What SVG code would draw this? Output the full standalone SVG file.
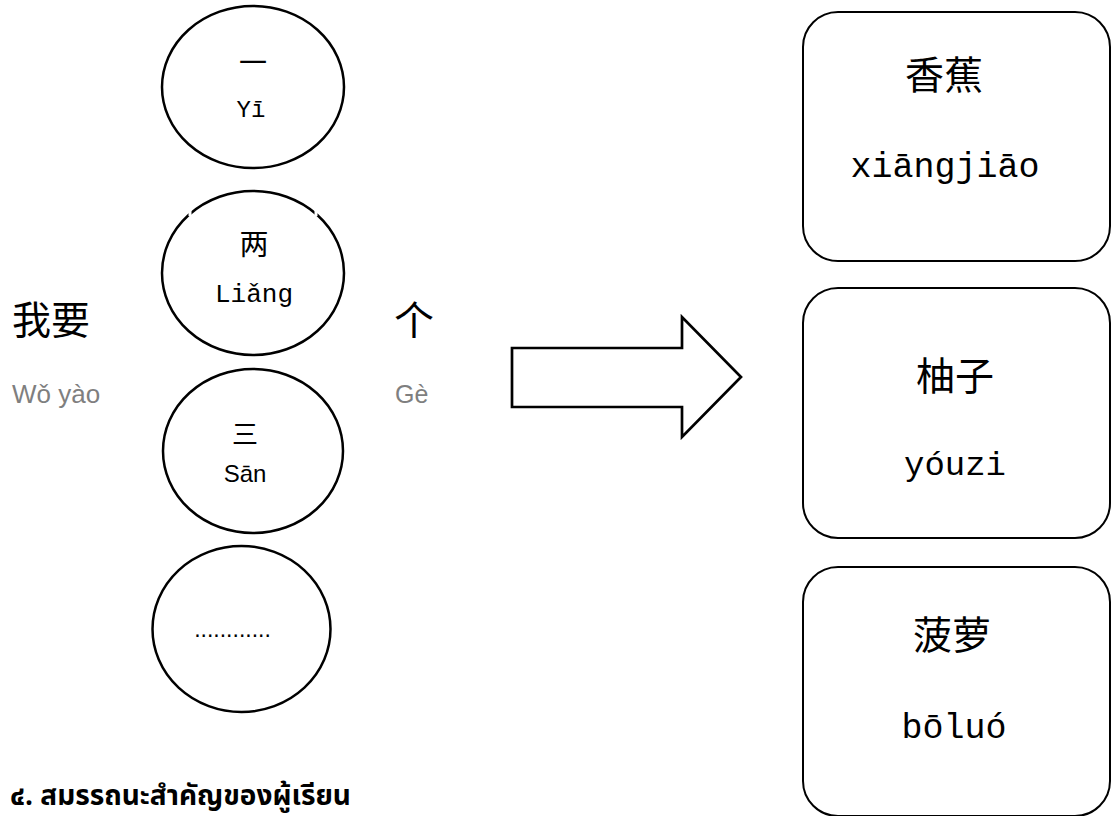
<svg xmlns="http://www.w3.org/2000/svg" width="1112" height="816" viewBox="0 0 1112 816">
<style>
.sh{fill:#fff;stroke:#000;stroke-width:2.5}
.rr{fill:#fff;stroke:#000;stroke-width:2}
.cjk{font-family:"Noto Sans CJK SC",sans-serif;fill:#000;text-anchor:middle}
.py{font-family:"Liberation Mono",monospace;fill:#000;text-anchor:middle}
.gray{font-family:"Liberation Sans",Arial,sans-serif;fill:#7f7f7f}
.sans{font-family:"Liberation Sans",Arial,sans-serif;fill:#000;text-anchor:middle}
.thai{font-family:"Noto Sans Thai","Noto Sans","DejaVu Sans",sans-serif;font-weight:bold;fill:#000}
</style>
<rect width="1112" height="816" fill="#fff"/>
<g id="circle-yi">
<ellipse class="sh" cx="253" cy="87" rx="91" ry="81"/>
<text class="cjk" x="253" y="73" font-size="28">一</text>
<text class="py" x="251" y="117" font-size="24">Yī</text>
</g>
<g id="circle-liang">
<ellipse class="sh" cx="253" cy="273" rx="91" ry="82"/>
<line x1="190" y1="208" x2="190" y2="216" stroke="#fff" stroke-width="3"/>
<line x1="316" y1="208" x2="316" y2="216" stroke="#fff" stroke-width="3"/>
<text class="cjk" x="254" y="255" font-size="29">两</text>
<text class="py" x="254" y="302" font-size="26">Liǎng</text>
</g>
<g id="circle-san">
<ellipse class="sh" cx="253" cy="451" rx="90" ry="82"/>
<text class="cjk" x="245" y="444" font-size="26">三</text>
<text class="sans" x="245" y="482" font-size="24">Sān</text>
</g>
<g id="circle-more">
<ellipse class="sh" cx="241.5" cy="629" rx="89" ry="83"/>
<text class="sans" x="232.5" y="637" font-size="23">............</text>
</g>
<g id="wo-yao">
<text class="cjk" x="51" y="334" font-size="39">我要</text>
<text class="gray" x="12" y="403" font-size="26">Wǒ yào</text>
</g>
<g id="ge">
<text class="cjk" x="414" y="335" font-size="40">个</text>
<text class="gray" x="395" y="403" font-size="25">Gè</text>
</g>
<g id="connectors">
<polygon points="512,348 682,348 682,317 741,377 682,437 682,407 512,407" fill="#fff" stroke="#000" stroke-width="2.7" stroke-linejoin="miter"/>
</g>
<g id="box-xiangjiao">
<rect class="rr" x="803" y="12" width="307" height="249" rx="35" ry="35"/>
<text class="cjk" x="944" y="89" font-size="39">香蕉</text>
<text class="py" x="945" y="177" font-size="35">xiāngjiāo</text>
</g>
<g id="box-youzi">
<rect class="rr" x="803" y="288" width="307" height="250" rx="35" ry="35"/>
<text class="cjk" x="955" y="390" font-size="39">柚子</text>
<text class="py" x="955" y="475" font-size="34">yóuzi</text>
</g>
<g id="box-boluo">
<rect class="rr" x="803" y="567" width="307" height="249" rx="35" ry="35"/>
<text class="cjk" x="952" y="649" font-size="39">菠萝</text>
<text class="py" x="954" y="738" font-size="35">bōluó</text>
</g>
<g id="heading">
<text class="thai" x="10" y="805" font-size="28">๔. สมรรถนะสำคัญของผู้เรียน</text>
</g>
</svg>
